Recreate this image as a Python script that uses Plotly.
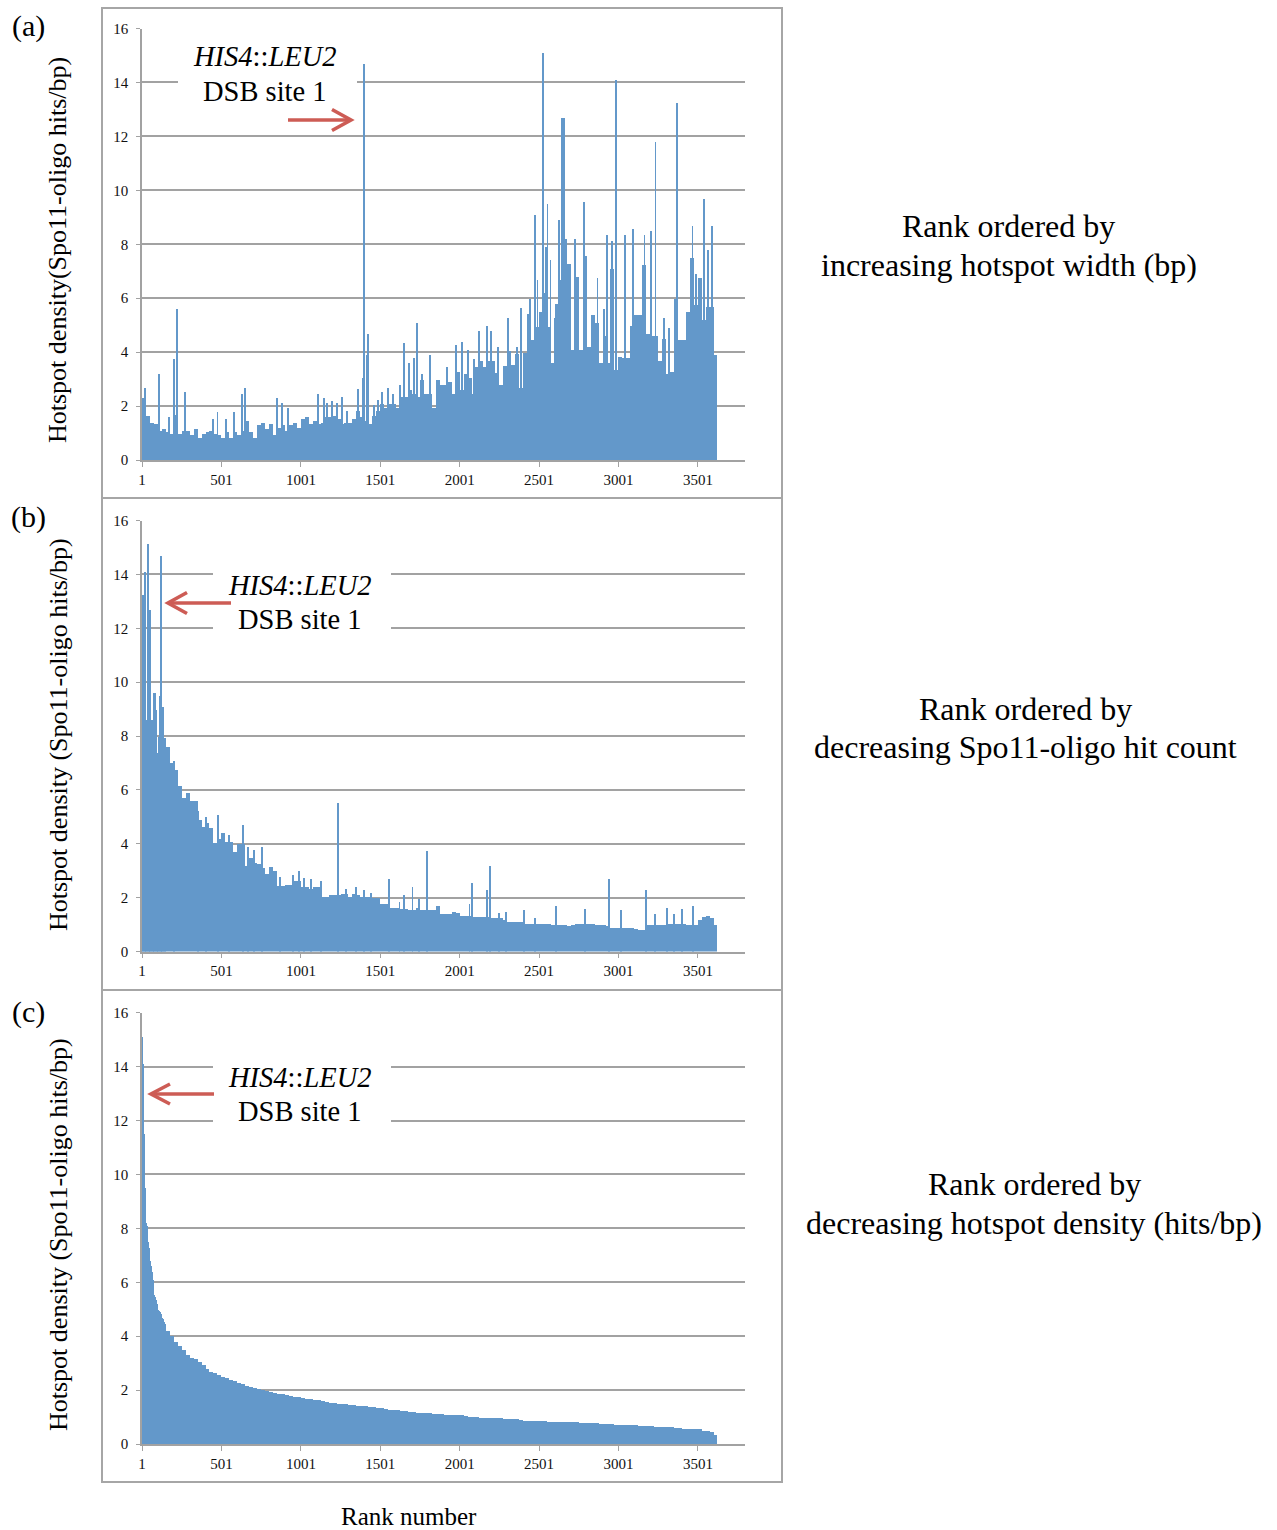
import plotly.graph_objects as go

# ---------------- data ----------------
BIN = 25          # ranks per bin of the dense fill
HEAD_STEP = 5     # ranks per bar in the steep head of panels b, c
SPIKE_W = 6       # width (ranks) of isolated tall bars
N_RANKS = 3620

x_tick_vals = [1, 501, 1001, 1501, 2001, 2501, 3001, 3501]
x_tick_text = ["1", "501", "1001", "1501", "2001", "2501", "3001", "3501"]
y_tick_vals = [0, 2, 4, 6, 8, 10, 12, 14, 16]

# (a) rank ordered by increasing hotspot width
a_bins = [
    2.3, 1.65, 1.4, 1.35, 1.1, 1.15, 1.05, 1.0, 1.7, 1.0,
    1.1, 1.1, 0.95, 1.15, 0.85, 1.0, 1.05, 1.1, 1.0, 0.95,
    0.85, 1.05, 0.85, 1.05, 0.95, 1.1, 1.45, 1.05, 0.85, 1.3,
    1.4, 1.15, 1.35, 0.95, 1.2, 1.3, 1.1, 1.3, 1.4, 1.2,
    1.55, 1.6, 1.35, 1.45, 1.35, 1.4, 1.6, 1.6, 1.65, 1.55,
    1.35, 1.4, 1.4, 1.55, 1.85, 1.6, 1.45, 1.35, 1.65, 1.85,
    2.1, 1.95, 2.1, 2.1, 1.95, 2.35, 2.35, 2.6, 2.45, 2.35,
    3.0, 2.45, 2.45, 1.95, 3.0, 2.8, 2.8, 2.9, 2.45, 3.3,
    2.6, 3.2, 3.05, 2.45, 3.45, 3.7, 3.45, 3.7, 3.7, 3.25,
    2.8, 3.5, 4.05, 3.55, 3.95, 2.7, 4.0, 5.45, 4.45, 4.95,
    5.5, 6.2, 4.95, 3.6, 5.8, 6.7, 8.15, 7.3, 4.1, 6.8,
    4.1, 7.6, 4.2, 5.4, 5.1, 3.6, 4.6, 3.6, 7.1, 3.35,
    3.85, 3.8, 3.8, 5.0, 5.4, 5.4, 7.25, 4.7, 4.6, 4.6,
    3.7, 4.5, 3.2, 3.3, 6.0, 4.45, 4.45, 5.5, 7.5, 5.75,
    6.75, 5.2, 5.7, 5.7, 3.9,
]
a_spike_rank = [18, 110, 171, 202, 223, 274, 448, 476, 530, 578, 628, 650,
                850, 881, 922, 1106, 1147, 1164, 1196, 1227, 1258, 1290,
                1359, 1394, 1399, 1420, 1426, 1460, 1485, 1510, 1552, 1580, 1625,
                1652, 1684, 1712, 1735, 1762, 1814, 1919, 1976, 2018, 2051, 2093, 2123,
                2171, 2196, 2240, 2303, 2360, 2385, 2443, 2474, 2491, 2523, 2544, 2554, 2573,
                2600, 2626, 2646, 2651, 2656, 2668, 2727, 2785, 2869, 2909, 2930, 2961, 2985,
                3041, 3094, 3165, 3205, 3234, 3287, 3318, 3358, 3367, 3430, 3467, 3492,
                3539, 3562, 3591]
a_spike_val = [2.7, 3.2, 1.6, 3.75, 5.6, 2.55, 1.55, 1.8, 1.55, 1.8, 2.45, 2.7,
               2.3, 2.15, 1.95, 2.45, 2.3, 2.15, 2.2, 2.15, 2.35, 1.85,
               2.65, 3.05, 14.7, 3.9, 4.7, 2.05, 2.25, 2.55, 2.7, 2.45, 2.8,
               4.35, 3.6, 3.8, 5.1, 3.2, 3.9, 3.45, 4.3, 4.4, 4.1, 3.75, 4.8,
               5.0, 4.8, 4.2, 5.3, 4.2, 5.65, 6.0, 9.1, 6.7, 15.1, 7.9, 9.5, 7.45,
               5.3, 8.9, 12.7, 12.7, 12.7, 8.2, 8.2, 9.6, 6.75, 5.6, 8.35, 8.15, 14.1,
               8.35, 8.6, 8.35, 8.5, 11.8, 5.3, 4.9, 6.0, 13.26, 5.5, 8.7, 6.9,
               9.7, 7.8, 8.7]

# (b) rank ordered by decreasing Spo11-oligo hit count
b_head = [13.25, 13.25, 13.25, 14.1, 14.1, 8.6, 8.6, 15.15, 12.7, 12.7,
          12.7, 8.35, 8.6, 8.6, 8.0, 9.6, 9.6, 9.0, 7.2, 7.2,
          7.4, 8.0, 9.5, 14.7, 9.5, 9.1, 9.1, 7.95, 7.95, 7.95]
b_bins = [
    0, 0, 0, 0, 0, 0, 7.6, 7.0, 6.75, 6.15,
    5.7, 5.9, 5.6, 5.6, 4.9, 4.65, 4.8, 4.6, 4.05, 4.2,
    4.4, 4.1, 4.1, 3.7, 4.0, 4.0, 3.2, 3.5, 3.3, 3.25,
    3.1, 2.9, 3.15, 3.0, 2.45, 2.45, 2.5, 2.5, 2.65, 2.65,
    2.4, 2.4, 2.35, 2.4, 2.4, 2.05, 2.05, 2.1, 2.1, 2.1,
    2.15, 2.15, 2.05, 2.15, 2.1, 2.05, 2.05, 2.05, 2.0, 2.0,
    1.8, 1.8, 1.65, 1.65, 1.65, 1.6, 1.6, 1.55, 1.55, 1.65,
    1.55, 1.55, 1.55, 1.55, 1.7, 1.4, 1.4, 1.4, 1.5, 1.45,
    1.35, 1.35, 1.35, 1.3, 1.3, 1.3, 1.3, 1.3, 1.25, 1.25,
    1.25, 1.2, 1.1, 1.1, 1.1, 1.1, 1.05, 1.05, 1.05, 1.05,
    1.05, 1.05, 1.05, 1.0, 1.0, 1.0, 1.0, 0.95, 1.0, 1.05,
    1.05, 1.05, 1.05, 1.05, 1.0, 1.0, 1.0, 0.95, 0.9, 0.9,
    0.9, 0.9, 0.9, 0.9, 0.85, 0.8, 0.8, 1.0, 1.0, 1.0,
    1.0, 1.0, 1.05, 1.05, 1.05, 1.05, 1.05, 1.0, 1.0, 1.0,
    1.2, 1.3, 1.35, 1.25, 1.0,
]
b_spike_rank = [202, 355, 403, 477, 548, 634, 666, 708, 758, 870, 950, 992, 1021,
                1065, 1128, 1237, 1286, 1349, 1401, 1441, 1553, 1622, 1653, 1704,
                1746, 1794, 2063, 2076, 2172, 2190, 2246, 2292, 2408, 2477, 2607,
                2790, 2942, 3014, 3177, 3229, 3309, 3353, 3401, 3473]
b_spike_val = [7.1, 5.25, 5.0, 5.1, 4.35, 4.7, 3.9, 3.8, 3.9, 2.8, 2.85, 3.0, 2.75,
               2.7, 2.65, 5.55, 2.35, 2.4, 2.3, 2.2, 2.7, 1.85, 2.1, 2.4,
               1.95, 3.75, 1.8, 2.55, 2.3, 3.2, 1.45, 1.5, 1.55, 1.25, 1.7,
               1.6, 2.7, 1.55, 2.3, 1.4, 1.65, 1.4, 1.6, 1.7]

# (c) rank ordered by decreasing hotspot density
c_head = [15.1, 14.1, 11.5, 9.5, 9.0, 8.2, 8.1, 7.5, 7.3, 7.0,
          6.8, 6.6, 6.4, 6.1, 5.8, 5.55, 5.45, 5.35, 5.2, 5.1,
          5.0, 4.95, 4.9, 4.85, 4.8, 4.7, 4.65, 4.55, 4.45, 4.4]
c_bins = [
    0, 0, 0, 0, 0, 0, 4.2, 4.0, 3.8, 3.65,
    3.5, 3.3, 3.22, 3.15, 3.05, 2.95, 2.8, 2.7, 2.63, 2.56,
    2.5, 2.46, 2.4, 2.34, 2.28, 2.22, 2.17, 2.13, 2.09, 2.05,
    2.02, 1.98, 1.95, 1.91, 1.88, 1.86, 1.83, 1.8, 1.77, 1.74,
    1.72, 1.69, 1.67, 1.65, 1.63, 1.6, 1.58, 1.55, 1.53, 1.51,
    1.49, 1.48, 1.46, 1.45, 1.43, 1.42, 1.41, 1.4, 1.38, 1.36,
    1.33, 1.3, 1.29, 1.27, 1.26, 1.25, 1.24, 1.2, 1.19, 1.17,
    1.16, 1.15, 1.15, 1.14, 1.13, 1.12, 1.1, 1.09, 1.08, 1.08,
    1.07, 1.06, 1.02, 1.0, 1.0, 0.99, 0.99, 0.98, 0.98, 0.97,
    0.96, 0.95, 0.95, 0.94, 0.94, 0.9, 0.88, 0.88, 0.88, 0.88,
    0.87, 0.86, 0.83, 0.82, 0.82, 0.82, 0.81, 0.81, 0.81, 0.81,
    0.79, 0.78, 0.78, 0.78, 0.78, 0.77, 0.77, 0.77, 0.77, 0.73,
    0.7, 0.7, 0.7, 0.7, 0.7, 0.69, 0.69, 0.69, 0.67, 0.66,
    0.66, 0.66, 0.66, 0.66, 0.62, 0.59, 0.58, 0.58, 0.58, 0.57,
    0.55, 0.5, 0.49, 0.45, 0.35,
]

# ---------------- layout geometry (page pixels) ----------------
W, H = 1277, 1530
PLOT_L, PLOT_R = 142, 745
PX_PER_RANK = 0.1588
X_RANGE = [0.5, 0.5 + (PLOT_R - PLOT_L) / PX_PER_RANK]
PANEL_Y = [(460, 28.5), (951.5, 520.5), (1444, 1012.7)]   # page y of value 0 and of 16
BOXES = [(102, 8, 782, 498), (102, 498, 782, 990), (102, 990, 782, 1482)]

BLUE = "#6398ca"
GRID = "#a2a2a2"
RED = "#cd5c55"
FONT = "Liberation Serif"


def px(x):
    return x / W


def py(y):
    return 1 - y / H


def bins_to_bars(vals, step):
    xs, ys, ws = [], [], []
    for i, v in enumerate(vals):
        lo = i * step + 0.5
        hi = min((i + 1) * step, N_RANKS) + 0.5
        if v and hi > lo:
            xs.append((lo + hi) / 2)
            ys.append(v)
            ws.append(hi - lo)
    return xs, ys, ws


fig = go.Figure()


def axref(k):
    return ("x" + ("" if k == 1 else str(k)), "y" + ("" if k == 1 else str(k)))


def add_bars(vals, step, k):
    xs, ys, ws = bins_to_bars(vals, step)
    xa, ya = axref(k)
    fig.add_trace(go.Bar(x=xs, y=ys, width=ws, marker=dict(color=BLUE, line=dict(width=0)),
                         xaxis=xa, yaxis=ya, showlegend=False, hoverinfo="skip"))


def add_spikes(ranks, vals, k):
    pr = list(zip(ranks, vals))
    xa, ya = axref(k)
    fig.add_trace(go.Bar(x=[r for r, _ in pr], y=[v for _, v in pr], width=[SPIKE_W] * len(pr),
                         marker=dict(color=BLUE, line=dict(width=0)),
                         xaxis=xa, yaxis=ya, showlegend=False, hoverinfo="skip"))


add_bars(a_bins, BIN, 1)
add_spikes(a_spike_rank, a_spike_val, 1)
add_bars(b_bins, BIN, 2)
add_bars(b_head, HEAD_STEP, 2)
add_spikes(b_spike_rank, b_spike_val, 2)
add_bars(c_bins, BIN, 3)
add_bars(c_head, HEAD_STEP, 3)

layout = dict(
    width=W, height=H, autosize=False,
    margin=dict(l=0, r=0, t=0, b=0, pad=0, autoexpand=False),
    paper_bgcolor="white", plot_bgcolor="white",
    barmode="overlay", bargap=0,
    font=dict(family=FONT, color="#111111"),
)

for k, (y0, y16) in enumerate(PANEL_Y, start=1):
    sfx = "" if k == 1 else str(k)
    layout["xaxis" + sfx] = dict(
        domain=[px(PLOT_L), px(PLOT_R)], range=X_RANGE, anchor="y" + sfx,
        tickmode="array", tickvals=x_tick_vals, ticktext=x_tick_text,
        ticks="outside", ticklen=5, tickwidth=1.3, tickcolor=GRID,
        showline=True, linecolor=GRID, linewidth=1.6,
        showgrid=False, zeroline=False, fixedrange=True, automargin=False,
        tickfont=dict(family=FONT, size=15, color="#111111"),
        ticklabelstandoff=0,
    )
    layout["yaxis" + sfx] = dict(
        domain=[py(y0), py(y16)], range=[0, 16], anchor="x" + sfx,
        tickmode="array", tickvals=y_tick_vals,
        ticks="outside", ticklen=4, tickwidth=1.3, tickcolor=GRID,
        showline=True, linecolor=GRID, linewidth=1.6,
        showgrid=True, gridcolor=GRID, gridwidth=1.6,
        zeroline=False, fixedrange=True, automargin=False,
        tickfont=dict(family=FONT, size=15, color="#111111"),
        ticklabelstandoff=5,
    )

shapes = []
for (x0, y0, x1, y1) in BOXES:
    shapes.append(dict(type="rect", xref="paper", yref="paper",
                       x0=px(x0), x1=px(x1), y0=py(y0), y1=py(y1),
                       line=dict(color="#a6a6a6", width=2), fillcolor="rgba(0,0,0,0)",
                       layer="above"))

# white masks behind the HIS4::LEU2 labels (they break the gridlines)
for (x0, y0, x1, y1) in [(178, 40, 357, 108), (213, 566, 391, 638), (213, 1058, 391, 1130)]:
    shapes.append(dict(type="rect", xref="paper", yref="paper",
                       x0=px(x0), x1=px(x1), y0=py(y0), y1=py(y1),
                       line=dict(width=0), fillcolor="white", layer="above"))

# red arrows: (tail x, tip x, y, head length, half-height)
for (xt, xh, yy, hl, hh) in [(288, 351, 120, 19, 10.5), (231, 168, 603, 19, 10.5), (214, 151, 1094, 19, 10)]:
    d = 1 if xh > xt else -1
    shapes.append(dict(type="line", xref="paper", yref="paper",
                       x0=px(xt), x1=px(xh - d * 2), y0=py(yy), y1=py(yy),
                       line=dict(color=RED, width=3.6), layer="above"))
    path = "M {:.5f},{:.5f} L {:.5f},{:.5f} L {:.5f},{:.5f}".format(
        px(xh - d * hl), py(yy - hh), px(xh), py(yy), px(xh - d * hl), py(yy + hh))
    shapes.append(dict(type="path", xref="paper", yref="paper", path=path,
                       line=dict(color=RED, width=3.6), layer="above"))

layout["shapes"] = shapes

ann = []


def text(x, y, t, size, **kw):
    d = dict(x=px(x), y=py(y), xref="paper", yref="paper", text=t, showarrow=False,
             font=dict(family=FONT, size=size, color="#000000"),
             xanchor="center", yanchor="middle")
    d.update(kw)
    ann.append(d)


text(28, 26, "(a)", 30)
text(28, 517, "(b)", 30)
text(28, 1012, "(c)", 30)

text(58, 250, "Hotspot density(Spo11-oligo hits/bp)", 26, textangle=-90)
text(58, 735, "Hotspot density (Spo11-oligo hits/bp)", 26, textangle=-90)
text(58, 1235, "Hotspot density (Spo11-oligo hits/bp)", 26, textangle=-90)

for (cx, y1, y2) in [(265, 57, 91), (300, 585, 619), (300, 1077, 1111)]:
    text(cx, y1, "<i>HIS4</i>::<i>LEU2</i>", 28.5)
    text(cx, y2, "DSB site 1", 28.5)

for (cx, y1, y2, line2) in [(1009, 226, 265, "increasing hotspot width (bp)"),
                            (1025, 709, 747, "decreasing Spo11-oligo hit count"),
                            (1034, 1184, 1223, "decreasing hotspot density (hits/bp)")]:
    text(cx, y1, "Rank ordered by", 32)
    text(cx, y2, line2, 32)

text(409, 1516, "Rank number", 25)

layout["annotations"] = ann
fig.update_layout(**layout)

fig.write_html("out.html", config={"displayModeBar": False},
               post_script="document.body.style.margin='0';")
